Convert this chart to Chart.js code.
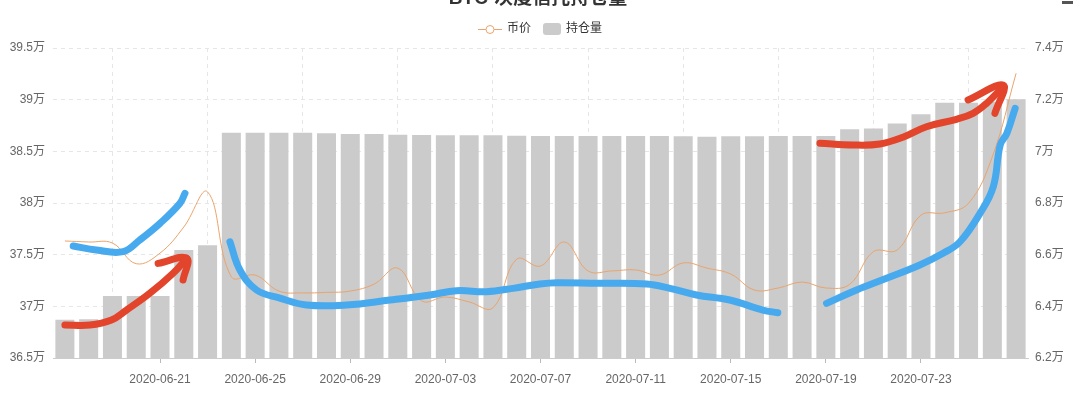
<!DOCTYPE html>
<html>
<head>
<meta charset="utf-8">
<script src="https://cdn.jsdelivr.net/npm/chart.js@4.4.1/dist/chart.umd.min.js"></script>
<style>
  html, body { margin: 0; padding: 0; background: #ffffff; }
  #wrap { position: relative; width: 1080px; height: 394px; overflow: hidden; }
</style>
</head>
<body>
<div id="wrap"><canvas id="c" width="1080" height="394"></canvas></div>
<script>
// ---- data ----
const titleText = 'BTC-灰度信托持仓量';
const categories = [
  '2020-06-17','2020-06-18','2020-06-19','2020-06-20','2020-06-21','2020-06-22','2020-06-23',
  '2020-06-24','2020-06-25','2020-06-26','2020-06-27','2020-06-28','2020-06-29','2020-06-30',
  '2020-07-01','2020-07-02','2020-07-03','2020-07-04','2020-07-05','2020-07-06','2020-07-07',
  '2020-07-08','2020-07-09','2020-07-10','2020-07-11','2020-07-12','2020-07-13','2020-07-14',
  '2020-07-15','2020-07-16','2020-07-17','2020-07-18','2020-07-19','2020-07-20','2020-07-21',
  '2020-07-22','2020-07-23','2020-07-24','2020-07-25','2020-07-26','2020-07-27'
];
// 持仓量 (万)
const holdings = [
  36.87, 36.875, 37.10, 37.10, 37.10, 37.545, 37.59,
  38.68, 38.68, 38.68, 38.68, 38.674, 38.668, 38.668,
  38.661, 38.658, 38.655, 38.655, 38.655, 38.651, 38.648,
  38.648, 38.648, 38.648, 38.648, 38.648, 38.645, 38.64,
  38.645, 38.645, 38.648, 38.648, 38.648, 38.713, 38.72,
  38.77, 38.86, 38.97, 38.97, 38.98, 39.003
];
// 币价 (万)
const price = [
  6.653, 6.649, 6.645, 6.565, 6.606, 6.707, 6.843,
  6.514, 6.521, 6.459, 6.452, 6.454, 6.459, 6.486,
  6.548, 6.421, 6.436, 6.417, 6.394, 6.583, 6.556,
  6.649, 6.537, 6.537, 6.541, 6.521, 6.568, 6.548,
  6.525, 6.463, 6.471, 6.494, 6.471, 6.485, 6.612,
  6.618, 6.753, 6.762, 6.799, 6.979, 7.302
];
const leftTicks = { min: 36.5, max: 39.5, step: 0.5 };
const rightTicks = { min: 6.2, max: 7.4, step: 0.2 };
const seriesNames = ['币价', '持仓量'];

// hand-drawn marks on the picture: [category position, left-axis value]
const blueStroke1 = [[0.35,37.584],[1.33,37.545],[2.45,37.529],[3.15,37.642],[4.0,37.803],[4.84,37.997],[5.05,38.094]];
const blueStroke2 = [[6.94,37.625],[7.36,37.352],[8.06,37.158],[9.04,37.08],[10.16,37.013],[11.85,37.013],[13.67,37.061],[15.35,37.11],[16.47,37.151],[17.73,37.142],[18.84,37.174],[19.97,37.216],[20.68,37.229],[22.36,37.223],[24.46,37.216],[25.44,37.174],[26.56,37.11],[27.96,37.061],[29.35,36.964],[29.98,36.938]];
const blueStroke3 = [[32.03,37.029],[33.29,37.158],[34.55,37.271],[35.95,37.4],[36.93,37.513],[37.64,37.625],[38.48,37.9],[39.04,38.158],[39.33,38.561],[39.61,38.674],[39.96,38.916]];
const redStroke1 = [[0,36.819],[1.05,36.819],[1.96,36.868],[2.59,36.964],[3.57,37.126],[4.55,37.32],[5.12,37.465]];
const redArrow1 = [[3.92,37.416],[5.12,37.465],[4.97,37.255]];
const redStroke2 = [[31.75,38.578],[33.15,38.561],[34.27,38.571],[35.24,38.636],[36.23,38.738],[37.49,38.81],[38.19,38.868],[38.76,38.965],[39.46,39.125]];
const redArrow2 = [[37.98,38.997],[39.46,39.14],[39.11,38.868]];

// ---- styles ----
const FONT = "'Liberation Sans', 'Noto Sans CJK SC', sans-serif";
const BAR_COLOR = '#cbcbcb';
const LINE_COLOR = '#eaa46c';
const BLUE = '#47a9ee';
const RED = '#e2452b';

const toPts = arr => arr.map(p => ({ x: p[0], y: p[1] }));
function strokeDs(arr, color) {
  return {
    type: 'line', label: '_mark', data: toPts(arr), xAxisID: 'xa', yAxisID: 'y',
    borderColor: color, borderWidth: 7, borderCapStyle: 'round', borderJoinStyle: 'round',
    pointRadius: 0, tension: 0.4, fill: false, order: 0
  };
}

const fmt = v => (Math.round(v * 10) / 10) + '万';

// title + legend drawn as canvas text
const headerPlugin = {
  id: 'header',
  afterDraw(chart) {
    const ctx = chart.ctx;
    ctx.save();
    // title (clipped at top like the reference)
    ctx.font = 'bold 19px ' + FONT;
    ctx.fillStyle = '#333';
    ctx.textAlign = 'center';
    ctx.textBaseline = 'alphabetic';
    ctx.fillText(titleText, 538, 4);
    ctx.fillStyle = '#555';
    ctx.fillRect(1062, 1, 11, 3);

    // legend
    const cy = 29;
    ctx.font = '12px ' + FONT;
    ctx.textAlign = 'left';
    ctx.textBaseline = 'middle';
    // item 1: line with hollow circle
    ctx.strokeStyle = LINE_COLOR; ctx.lineWidth = 1;
    ctx.beginPath(); ctx.moveTo(478, cy + 0.5); ctx.lineTo(502, cy + 0.5); ctx.stroke();
    ctx.beginPath(); ctx.arc(490, cy + 0.5, 4, 0, Math.PI * 2);
    ctx.fillStyle = '#fff'; ctx.fill(); ctx.stroke();
    ctx.fillStyle = '#333';
    ctx.fillText(seriesNames[0], 507, cy);
    // item 2: rounded box
    ctx.fillStyle = BAR_COLOR;
    const bx = 543, by = cy - 6, bw = 18, bh = 12, r = 3;
    ctx.beginPath();
    ctx.moveTo(bx + r, by); ctx.lineTo(bx + bw - r, by); ctx.quadraticCurveTo(bx + bw, by, bx + bw, by + r);
    ctx.lineTo(bx + bw, by + bh - r); ctx.quadraticCurveTo(bx + bw, by + bh, bx + bw - r, by + bh);
    ctx.lineTo(bx + r, by + bh); ctx.quadraticCurveTo(bx, by + bh, bx, by + bh - r);
    ctx.lineTo(bx, by + r); ctx.quadraticCurveTo(bx, by, bx + r, by);
    ctx.fill();
    ctx.fillStyle = '#333';
    ctx.fillText(seriesNames[1], 566, cy);
    ctx.restore();
  }
};

new Chart(document.getElementById('c'), {
  type: 'bar',
  data: {
    labels: categories,
    datasets: [
      {
        type: 'line', label: seriesNames[0], data: price, yAxisID: 'y1', xAxisID: 'x',
        borderColor: LINE_COLOR, backgroundColor: '#fff', borderWidth: 1,
        pointRadius: 0, tension: 0.4, fill: false, order: 1
      },
      {
        type: 'bar', label: seriesNames[1], data: holdings, yAxisID: 'y', xAxisID: 'x',
        backgroundColor: BAR_COLOR, barPercentage: 0.8, categoryPercentage: 1.0,
        grouped: false, order: 2
      },
      strokeDs(blueStroke1, BLUE),
      strokeDs(blueStroke2, BLUE),
      strokeDs(blueStroke3, BLUE),
      strokeDs(redStroke1, RED),
      strokeDs(redArrow1, RED),
      strokeDs(redStroke2, RED),
      strokeDs(redArrow2, RED)
    ]
  },
  options: {
    responsive: false,
    animation: false,
    devicePixelRatio: 1,
    layout: { padding: { top: 48, left: 0, right: 0, bottom: 0 } },
    plugins: {
      tooltip: { enabled: false },
      legend: { display: false },
      title: { display: false }
    },
    scales: {
      x: {
        type: 'category',
        offset: true,
        grid: {
          offset: false,
          color: c => (c.index % 4 === 2 ? '#e6e6e6' : 'rgba(0,0,0,0)'),
          tickColor: c => (c.index % 4 === 0 && c.index !== 0 && c.index !== categories.length - 1 ? '#bbbbbb' : 'rgba(0,0,0,0)'),
          tickLength: 5,
          drawTicks: true
        },
        border: { display: true, color: '#cccccc', width: 1, dash: [4, 4] },
        ticks: {
          autoSkip: false,
          maxRotation: 0,
          padding: 9,
          color: '#666',
          font: { size: 12, family: FONT },
          callback(v, i) {
            return (i % 4 === 0 && i !== 0 && i !== categories.length - 1) ? categories[i] : '';
          }
        },
        afterFit(s) { s.height = 36; }
      },
      xa: {
        type: 'linear', axis: 'x', display: false, offset: false,
        grid: { offset: false },
        min: -0.5, max: categories.length - 0.5
      },
      y: {
        position: 'left',
        min: leftTicks.min, max: leftTicks.max,
        grid: { color: '#e6e6e6', drawTicks: false },
        border: { display: false, dash: [4, 4] },
        ticks: {
          stepSize: leftTicks.step, padding: 8, color: '#666',
          font: { size: 12, family: FONT },
          callback: v => fmt(v)
        },
        afterFit(s) { s.width = 53; }
      },
      y1: {
        position: 'right',
        min: rightTicks.min, max: rightTicks.max,
        grid: { display: false, drawOnChartArea: false, drawTicks: false },
        border: { display: false },
        ticks: {
          stepSize: rightTicks.step, padding: 7, color: '#666',
          font: { size: 12, family: FONT },
          callback: v => fmt(v)
        },
        afterFit(s) { s.width = 52; }
      }
    }
  },
  plugins: [headerPlugin]
});
</script>
</body>
</html>
